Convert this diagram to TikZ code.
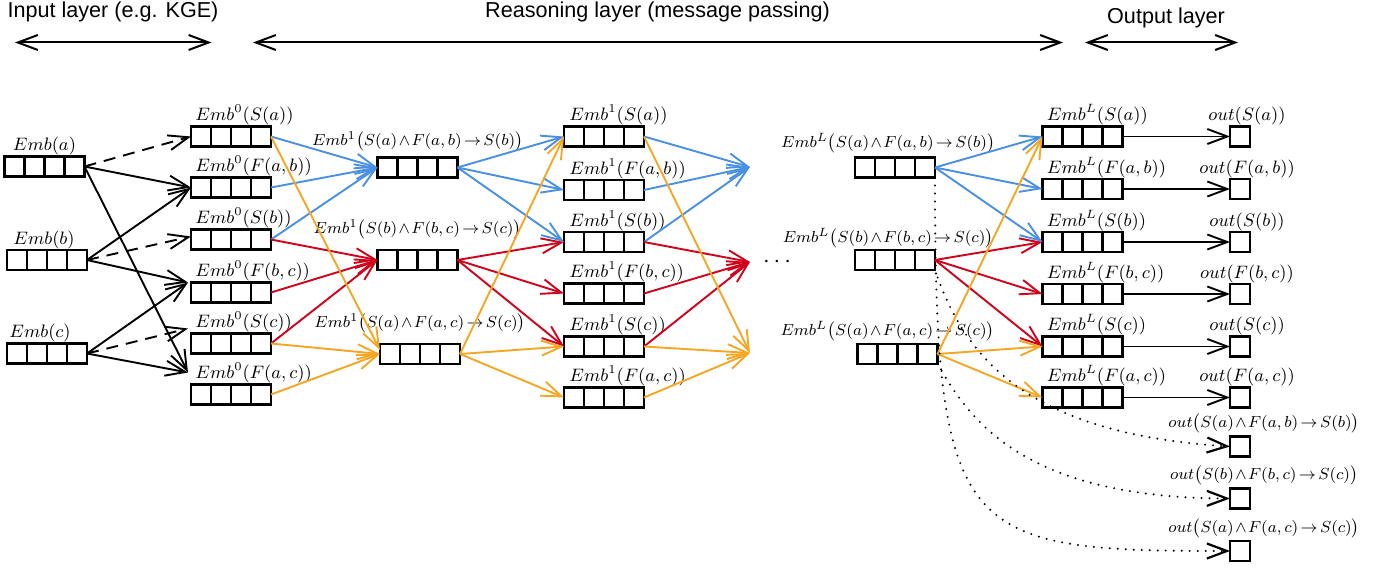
\documentclass[tikz,border=0pt]{standalone}
\usepackage{amsmath}
\usepackage{fontspec}
\newfontfamily\hdrfont{Liberation Sans}
\usetikzlibrary{arrows.meta,calc}
\definecolor{cblue}{HTML}{4A90E2}
\definecolor{cred}{HTML}{D0021B}
\definecolor{corange}{HTML}{F5A623}
\newcommand\rlabtxt[1]{\medmuskip=1.5mu\relax\thickmuskip=2.5mu\relax$#1$}
\tikzset{
  vecbox/.style={draw, line width=1.2pt, minimum width=40pt, minimum height=10pt, inner sep=0pt, outer sep=0pt,
    path picture={\foreach \f in {0.25,0.5,0.75}{\draw[line width=1.2pt] ($(path picture bounding box.south west)!\f!(path picture bounding box.south east)$) -- ($(path picture bounding box.north west)!\f!(path picture bounding box.north east)$);}}},
  outbox/.style={draw, line width=1.2pt, minimum size=10pt, inner sep=0pt, outer sep=0pt},
  lbl/.style={inner sep=0pt, font=\fontsize{9}{11}\selectfont},
  rlbl/.style={inner sep=0pt, font=\fontsize{8}{10}\selectfont},
  hdrtxt/.style={inner sep=0pt, font=\hdrfont\fontsize{10.8}{13}\selectfont},
  arrtip/.style={-{Straight Barb[length=10pt,width=7.5pt]}},
  larr/.style={line width=1pt, {Straight Barb[length=10pt,width=7.5pt]}-{Straight Barb[length=10pt,width=7.5pt]}},
  con/.style={line width=0.95pt, arrtip},
  blk/.style={con, black},
  blu/.style={con, cblue},
  rd/.style={con, cred},
  org/.style={con, corange},
  dsh/.style={blk, dash pattern=on 6pt off 4pt},
  dotc/.style={blk, line cap=round, dash pattern=on 0pt off 4pt, line width=1.1pt},
}
\begin{document}
\begin{tikzpicture}[x=0.5pt,y=-0.5pt]
\useasboundingbox (0,0) rectangle (1380,567);

% headers
\node[hdrtxt, anchor=base] (hin) at (113,17.5) {Input layer (e.g. KGE)};
\node[hdrtxt, anchor=base] (hre) at (657.5,17.5) {Reasoning layer (message passing)};
\node[hdrtxt, anchor=base] (hou) at (1166,24) {Output layer};
\coordinate (h1a) at (15,42.5); \coordinate (h1b) at (211.5,42.5);
\coordinate (h2a) at (253,42.5); \coordinate (h2b) at (1063,42.5);
\coordinate (h3a) at (1085,42.5); \coordinate (h3b) at (1238,42.5);
\draw[larr] (h1a) -- (h1b);
\draw[larr] (h2a) -- (h2b);
\draw[larr] (h3a) -- (h3b);

% input layer
\node[vecbox] (ia) at (44.5,166.5) {};
\node[vecbox] (ib) at (47,260) {};
\node[vecbox] (ic) at (47,353.5) {};
\node[lbl, anchor=south west] (lia) at ([xshift=4pt,yshift=0.5pt]ia.north west) {$Emb(a)$};
\node[lbl, anchor=south west] (lib) at ([xshift=3pt,yshift=0.5pt]ib.north west) {$Emb(b)$};
\node[lbl, anchor=south west] (lic) at ([xshift=1pt,yshift=0.5pt]ic.north west) {$Emb(c)$};

% layer 0
\foreach \n/\y/\t in {Sa/136.5/{S(a)}, Fab/187.5/{F(a,b)}, Sb/239.5/{S(b)}, Fbc/292.5/{F(b,c)}, Sc/343.5/{S(c)}, Fac/394.5/{F(a,c)}}{
  \node[vecbox] (E0\n) at (231,\y) {};
  \node[lbl, anchor=south west] (lE0\n) at ([xshift=2pt,yshift=0.5pt]E0\n.north west) {$Emb^0(\t)$};
}

% layer 1 rules
\node[vecbox] (r1) at (417.5,167.5) {};
\node[vecbox] (r2) at (417.5,260) {};
\node[vecbox] (r3) at (420,354) {};
\node[rlbl, anchor=south] (lr1) at ([yshift=3pt]r1.north) {\rlabtxt{Emb^1\bigl(S(a)\wedge F(a,b)\to S(b)\bigr)}};
\node[rlbl, anchor=south] (lr2) at ([yshift=5.5pt]r2.north) {\rlabtxt{Emb^1\bigl(S(b)\wedge F(b,c)\to S(c)\bigr)}};
\node[rlbl, anchor=south] (lr3) at ([yshift=5.5pt]r3.north) {\rlabtxt{Emb^1\bigl(S(a)\wedge F(a,c)\to S(c)\bigr)}};

% layer 1 atoms
\foreach \n/\y/\t in {Sa/136.5/{S(a)}, Fab/190/{F(a,b)}, Sb/242/{S(b)}, Fbc/293.5/{F(b,c)}, Sc/346.5/{S(c)}, Fac/397.5/{F(a,c)}}{
  \node[vecbox] (A1\n) at (604,\y) {};
  \node[lbl, anchor=south west] (lA1\n) at ([xshift=2.5pt,yshift=0.5pt]A1\n.north west) {$Emb^1(\t)$};
}

% open targets and dots
\coordinate (tB) at (750,167);
\coordinate (tR) at (750,262);
\coordinate (tO) at (750,353);
\node[inner sep=0pt, font=\fontsize{12}{14}\selectfont, anchor=base] (dots) at (779,267) {$\cdots$};

% layer L rules
\node[vecbox] (rL1) at (895,167.5) {};
\node[vecbox] (rL2) at (895,260) {};
\node[vecbox] (rL3) at (897.5,354) {};
\node[rlbl, anchor=south] (lrL1) at ([xshift=-3.5pt,yshift=2pt]rL1.north) {\rlabtxt{Emb^L\bigl(S(a)\wedge F(a,b)\to S(b)\bigr)}};
\node[rlbl, anchor=south] (lrL2) at ([xshift=-3.5pt,yshift=1pt]rL2.north) {\rlabtxt{Emb^L\bigl(S(b)\wedge F(b,c)\to S(c)\bigr)}};
\node[rlbl, anchor=south] (lrL3) at ([xshift=-5pt,yshift=1.5pt]rL3.north) {\rlabtxt{Emb^L\bigl(S(a)\wedge F(a,c)\to S(c)\bigr)}};

% layer L atoms and outputs
\foreach \n/\y/\t in {Sa/136.5/{S(a)}, Fab/189/{F(a,b)}, Sb/242/{S(b)}, Fbc/294/{F(b,c)}, Sc/346.5/{S(c)}, Fac/397.5/{F(a,c)}}{
  \node[vecbox] (AL\n) at (1082.5,\y) {};
  \node[lbl, anchor=south west] (lAL\n) at ([xshift=2pt,yshift=0.5pt]AL\n.north west) {$Emb^L(\t)$};
  \node[outbox] (O\n) at (1240,\y) {};
  \node[lbl, anchor=south] (lO\n) at ([xshift=3.5pt,yshift=0.5pt]O\n.north) {$out(\t)$};
  \draw[blk] (AL\n.east) -- (O\n.west);
}
\node[outbox] (ORab) at (1240,446.5) {};
\node[outbox] (ORbc) at (1240,498.5) {};
\node[outbox] (ORac) at (1240,551) {};
\node[rlbl, anchor=south] (lORab) at ([xshift=12pt,yshift=1.5pt]ORab.north) {\rlabtxt{out\bigl(S(a)\wedge F(a,b)\to S(b)\bigr)}};
\node[rlbl, anchor=south] (lORbc) at ([xshift=12pt,yshift=1.5pt]ORbc.north) {\rlabtxt{out\bigl(S(b)\wedge F(b,c)\to S(c)\bigr)}};
\node[rlbl, anchor=south] (lORac) at ([xshift=12pt,yshift=1.5pt]ORac.north) {\rlabtxt{out\bigl(S(a)\wedge F(a,c)\to S(c)\bigr)}};

% input -> layer 0
\draw[dsh] (ia.east) -- (E0Sa.west);
\draw[blk] (ia.east) -- (E0Fab.west);
\draw[blk] (ia.east) -- ([xshift=-1.5pt,yshift=6pt]E0Fac.north west);
\draw[blk] (ib.east) -- (E0Fab.west);
\draw[dsh] (ib.east) -- ([yshift=1.5pt]E0Sb.west);
\draw[blk] (ib.east) -- ([xshift=-1.5pt]E0Fbc.north west);
\draw[blk] (ic.east) -- ([xshift=-1.5pt]E0Fbc.north west);
\draw[dsh] (ic.east) -- ([xshift=-1.5pt,yshift=2.5pt]E0Sc.north west);
\draw[blk] (ic.east) -- ([xshift=-1.5pt,yshift=6pt]E0Fac.north west);

% layer 0 -> rules
\draw[blu] (E0Sa.east) -- (r1.west);
\draw[blu] (E0Fab.east) -- (r1.west);
\draw[blu] (E0Sb.east) -- (r1.west);
\draw[rd] (E0Sb.east) -- (r2.west);
\draw[rd] (E0Fbc.east) -- (r2.west);
\draw[rd] (E0Sc.east) -- (r2.west);
\draw[org] (E0Sa.east) -- ([yshift=2pt]r3.west);
\draw[org] (E0Sc.east) -- (r3.west);
\draw[org] (E0Fac.east) -- (r3.west);

% rules -> layer 1 atoms
\draw[blu] (r1.east) -- (A1Sa.west);
\draw[blu] (r1.east) -- (A1Fab.west);
\draw[blu] (r1.east) -- (A1Sb.west);
\draw[rd] (r2.east) -- (A1Sb.west);
\draw[rd] (r2.east) -- (A1Fbc.west);
\draw[rd] (r2.east) -- (A1Sc.west);
\draw[org] (r3.east) -- (A1Sa.west);
\draw[org] (r3.east) -- (A1Sc.west);
\draw[org] (r3.east) -- (A1Fac.west);

% layer 1 atoms -> next layer
\draw[blu] (A1Sa.east) -- (tB);
\draw[blu] (A1Fab.east) -- (tB);
\draw[blu] (A1Sb.east) -- (tB);
\draw[rd] (A1Sb.east) -- (tR);
\draw[rd] (A1Fbc.east) -- (tR);
\draw[rd] (A1Sc.east) -- (tR);
\draw[org] (A1Sa.east) -- (tO);
\draw[org] (A1Sc.east) -- (tO);
\draw[org] (A1Fac.east) -- (tO);

% layer L rules -> layer L atoms
\draw[blu] (rL1.east) -- (ALSa.west);
\draw[blu] (rL1.east) -- (ALFab.west);
\draw[blu] (rL1.east) -- (ALSb.west);
\draw[rd] (rL2.east) -- (ALSb.west);
\draw[rd] (rL2.east) -- (ALFbc.west);
\draw[rd] (rL2.east) -- (ALSc.west);
\draw[org] (rL3.east) -- (ALSa.west);
\draw[org] (rL3.east) -- (ALSc.west);
\draw[org] (rL3.east) -- (ALFac.west);

% dotted rule outputs
\draw[dotc] (rL1.south east) .. controls +(0,362) and +(-269,0) .. (ORac.west);
\draw[dotc] (rL3.south east) .. controls +(32,55) and +(-209,-1) .. (ORbc.west);
\draw[dotc] (rL2.south east) .. controls +(29,86) and +(-205,-13) .. (ORab.west);
\end{tikzpicture}
\end{document}
